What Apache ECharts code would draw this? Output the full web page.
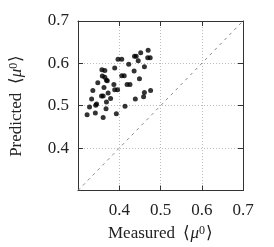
<!DOCTYPE html>
<html><head><meta charset="utf-8">
<script src="https://cdn.jsdelivr.net/npm/echarts@6/dist/echarts.min.js"></script>
<style>html,body{margin:0;padding:0;background:#fff}#c{width:274px;height:247px}</style>
</head><body><div id="c"></div>
<script>
const measured = [0.322,0.328,0.342,0.343,0.345,0.333,0.336,0.348,0.361,0.368,0.369,0.373,0.357,0.361,0.363,0.379,0.359,0.365,0.369,0.371,0.358,0.365,0.389,0.387,0.389,0.396,0.393,0.397,0.406,0.406,0.412,0.414,0.419,0.426,0.423,0.437,0.441,0.436,0.449,0.446,0.452,0.461,0.470,0.469,0.475,0.439,0.459,0.461,0.476];
const predicted = [0.479,0.497,0.483,0.501,0.504,0.516,0.536,0.554,0.472,0.493,0.509,0.530,0.523,0.523,0.543,0.517,0.570,0.567,0.560,0.559,0.585,0.583,0.589,0.550,0.538,0.538,0.481,0.610,0.610,0.571,0.571,0.499,0.550,0.550,0.598,0.617,0.617,0.582,0.564,0.606,0.625,0.592,0.631,0.613,0.613,0.516,0.521,0.531,0.536];
const diagonal = [[0.3,0.3],[0.7,0.7]];
const axisMin = 0.3, axisMax = 0.7, axisStep = 0.1;
const xName = 'Measured', yName = 'Predicted';

const font = 'Liberation Serif';
const rich = {
  a:{fontFamily:font,fontSize:17,color:'#222'},
  i:{fontFamily:font,fontSize:17,fontStyle:'italic',color:'#222'},
  s:{fontFamily:font,fontSize:12,color:'#222',verticalAlign:'top',padding:[0,1,6,0]}
};
function mkName(n){return '{a|'+n+'  ⟨}{i|μ}{s|0}{a|⟩}';}
const line = {lineStyle:{color:'#333',width:1}};
const split = {show:true,lineStyle:{color:'#bbb',type:[1,2],width:1}};
const tick = {show:true,inside:true,length:5,lineStyle:{color:'#333'}};
const lbl = {fontFamily:font,fontSize:17,color:'#222',showMinLabel:false,formatter:v=>v.toFixed(1)};
const base = {type:'value',min:axisMin,max:axisMax,interval:axisStep};
const chart = echarts.init(document.getElementById('c'));
chart.setOption({
  animation:false,
  grid:{left:73,right:31,top:21,bottom:55},
  xAxis:[
    Object.assign({},base,{position:'bottom',axisLine:line,axisTick:tick,splitLine:split,axisLabel:Object.assign({},lbl,{margin:12}),
      name:mkName(xName),nameLocation:'middle',nameGap:34,nameTextStyle:{rich}}),
    Object.assign({},base,{position:'top',axisLine:line,axisTick:tick,splitLine:{show:false},axisLabel:{show:false}})
  ],
  yAxis:[
    Object.assign({},base,{position:'left',axisLine:line,axisTick:tick,splitLine:split,axisLabel:Object.assign({},lbl,{margin:9}),
      name:mkName(yName),nameLocation:'middle',nameGap:52,nameTextStyle:{rich}}),
    Object.assign({},base,{position:'right',axisLine:line,axisTick:tick,splitLine:{show:false},axisLabel:{show:false}})
  ],
  series:[
    {type:'line',data:diagonal,symbol:'none',silent:true,lineStyle:{color:'#888',width:1,type:[3,4]}},
    {type:'scatter',data:measured.map((m,k)=>[m,predicted[k]]),symbolSize:5,itemStyle:{color:'#000'}}
  ]
});
</script></body></html>
